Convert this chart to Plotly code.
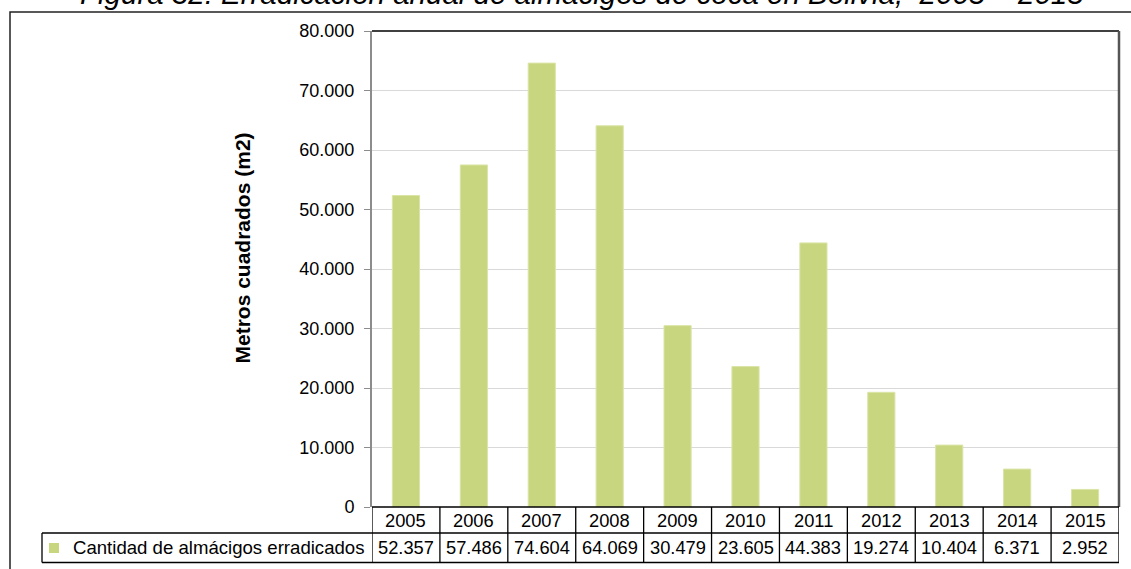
import plotly.graph_objects as go

years = ["2005", "2006", "2007", "2008", "2009", "2010", "2011", "2012", "2013", "2014", "2015"]
values = [52357, 57486, 74604, 64069, 30479, 23605, 44383, 19274, 10404, 6371, 2952]
series_name = "Cantidad de almácigos erradicados"
title_text = "Figura 32: Erradicación anual de almácigos de coca en Bolivia,  2005 – 2015"
y_title = "Metros cuadrados (m2)"

W, H = 1131, 569
L, R, T, B = 372, 12, 31, 62
pw, ph = W - L - R, H - T - B

def px_x(x):
    return (x - L) / pw

def px_y(y):
    return (H - B - y) / ph

FONT = "Arial, Liberation Sans, sans-serif"
bar_color = "#C9D680"

fig = go.Figure()
fig.add_trace(go.Bar(
    x=years, y=values, name=series_name,
    marker=dict(color=bar_color, line=dict(color="#dbe4a6", width=1)),
    showlegend=False, hoverinfo="skip",
))

shapes = []
annotations = []

# plot area borders
shapes.append(dict(type="line", xref="paper", yref="paper", x0=0, x1=1, y0=1, y1=1,
                   line=dict(color="#000000", width=1.5)))
shapes.append(dict(type="line", xref="paper", yref="paper", x0=1, x1=1, y0=0, y1=1,
                   line=dict(color="#555555", width=2.5)))

# outer frame
shapes.append(dict(type="rect", xref="paper", yref="paper",
                   x0=px_x(10), x1=px_x(1145), y0=px_y(590), y1=px_y(12),
                   line=dict(color="#222222", width=1.5), layer="below"))

# table
row1_top, row_sep, row2_bot = 507, 533, 562.5
line_style = dict(color="#000000", width=1.3)
shapes.append(dict(type="line", xref="paper", yref="paper", x0=0, x1=1,
                   y0=px_y(row1_top), y1=px_y(row1_top), line=line_style))
shapes.append(dict(type="line", xref="paper", yref="paper", x0=px_x(42), x1=1,
                   y0=px_y(row_sep), y1=px_y(row_sep), line=line_style))
shapes.append(dict(type="line", xref="paper", yref="paper", x0=px_x(42), x1=1,
                   y0=px_y(row2_bot), y1=px_y(row2_bot), line=line_style))
shapes.append(dict(type="line", xref="paper", yref="paper", x0=px_x(42), x1=px_x(42),
                   y0=px_y(row2_bot), y1=px_y(row_sep), line=line_style))
for i in range(len(years) + 1):
    shapes.append(dict(type="line", xref="x", yref="paper", x0=i - 0.5, x1=i - 0.5,
                       y0=px_y(row2_bot), y1=px_y(row1_top), line=line_style))

# legend marker
shapes.append(dict(type="rect", xref="paper", yref="paper",
                   x0=px_x(49), x1=px_x(59), y0=px_y(553), y1=px_y(543),
                   fillcolor=bar_color, line=dict(width=0)))

tfont = dict(family=FONT, size=18.3, color="#000000")
for i, (yr, v) in enumerate(zip(years, values)):
    annotations.append(dict(x=i, xref="x", y=px_y((row1_top + row_sep) / 2), yref="paper",
                            text=yr, showarrow=False, font=tfont,
                            xanchor="center", yanchor="middle"))
    annotations.append(dict(x=i, xref="x", y=px_y((row_sep + row2_bot) / 2), yref="paper",
                            text=f"{v:,}".replace(",", "."), showarrow=False, font=tfont,
                            xanchor="center", yanchor="middle"))
annotations.append(dict(x=px_x(71), xref="paper", y=px_y((row_sep + row2_bot) / 2), yref="paper",
                        text=series_name, showarrow=False, font=dict(family=FONT, size=18.6, color="#000000"),
                        xanchor="left", yanchor="middle"))

# y axis title
annotations.append(dict(x=px_x(242), xref="paper", y=px_y(248.5), yref="paper",
                        text=f"<b>{y_title}</b>", textangle=-90, showarrow=False,
                        font=dict(family=FONT, size=21, color="#000000"),
                        xanchor="center", yanchor="middle"))

# chart title (partially cut at top, as in the reference)
annotations.append(dict(x=px_x(582), xref="paper", y=px_y(12), yref="paper",
                        text=f"<i>{title_text}</i>", showarrow=False,
                        font=dict(family=FONT, size=29.5, color="#000000"),
                        xanchor="center", yanchor="bottom"))

fig.update_layout(
    width=W, height=H,
    margin=dict(l=L, r=R, t=T, b=B, pad=0),
    paper_bgcolor="white", plot_bgcolor="white",
    separators=",.",
    bargap=0.6,
    shapes=shapes,
    annotations=annotations,
    hovermode=False,
    xaxis=dict(type="category", showticklabels=False, ticks="", showgrid=False, showline=False,
               zeroline=False, range=[-0.5, 10.5], fixedrange=True),
    yaxis=dict(range=[0, 80000], dtick=10000, tickformat=",.0f",
               showgrid=True, gridcolor="#d9d9d9", gridwidth=1.3,
               showline=True, linecolor="#8c8c8c", linewidth=2,
               ticks="outside", ticklen=6, tickcolor="#8c8c8c", tickwidth=1,
               ticklabelstandoff=6, zeroline=False, fixedrange=True,
               tickfont=dict(family=FONT, size=18, color="#000000")),
    showlegend=False,
)

fig.write_html("out.html", config={"displayModeBar": False},
               post_script="document.body.style.margin='0';document.body.style.overflow='hidden';")
